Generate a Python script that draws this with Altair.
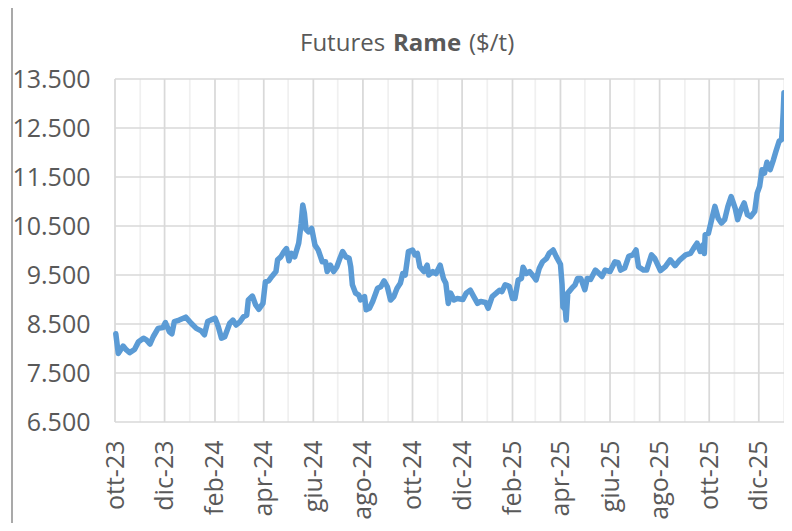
import json
import altair as alt
import pandas as pd

# ---- data ----
DATES = [
    "2023-10-02", "2023-10-05", "2023-10-11", "2023-10-15", "2023-10-19", "2023-10-25", "2023-10-30",
    "2023-11-05", "2023-11-09", "2023-11-13", "2023-11-17", "2023-11-23", "2023-11-29",
    "2023-12-02", "2023-12-07", "2023-12-10", "2023-12-13", "2023-12-19", "2023-12-27",
    "2024-01-03", "2024-01-09", "2024-01-15", "2024-01-19", "2024-01-23", "2024-01-27",
    "2024-02-01", "2024-02-05", "2024-02-09", "2024-02-13", "2024-02-19", "2024-02-23", "2024-02-27",
    "2024-03-03", "2024-03-07", "2024-03-11", "2024-03-13", "2024-03-18", "2024-03-22", "2024-03-26", "2024-03-31",
    "2024-04-03", "2024-04-07", "2024-04-11", "2024-04-16", "2024-04-18", "2024-04-22", "2024-04-26", "2024-04-29",
    "2024-05-02", "2024-05-05", "2024-05-09", "2024-05-14", "2024-05-17", "2024-05-19", "2024-05-21", "2024-05-23",
    "2024-05-26", "2024-05-30",
    "2024-06-03", "2024-06-07", "2024-06-12", "2024-06-16", "2024-06-18", "2024-06-22", "2024-06-26", "2024-06-30",
    "2024-07-03", "2024-07-07", "2024-07-11", "2024-07-15", "2024-07-17", "2024-07-19", "2024-07-23", "2024-07-27",
    "2024-07-29",
    "2024-08-03", "2024-08-05", "2024-08-09", "2024-08-13", "2024-08-19", "2024-08-23", "2024-08-27", "2024-08-31",
    "2024-09-04", "2024-09-08", "2024-09-12", "2024-09-16", "2024-09-19", "2024-09-22", "2024-09-26",
    "2024-10-01", "2024-10-04", "2024-10-07", "2024-10-10", "2024-10-15", "2024-10-19", "2024-10-21", "2024-10-26",
    "2024-10-30",
    "2024-11-04", "2024-11-08", "2024-11-11", "2024-11-14", "2024-11-17", "2024-11-21", "2024-11-25",
    "2024-12-02", "2024-12-06", "2024-12-11", "2024-12-15", "2024-12-20", "2024-12-24", "2024-12-30",
    "2025-01-02", "2025-01-07", "2025-01-12", "2025-01-16", "2025-01-19", "2025-01-23", "2025-01-28",
    "2025-02-01", "2025-02-04", "2025-02-08", "2025-02-12", "2025-02-14", "2025-02-18", "2025-02-22", "2025-02-27",
    "2025-03-02", "2025-03-06", "2025-03-10", "2025-03-15", "2025-03-18", "2025-03-23", "2025-03-27",
    "2025-04-01", "2025-04-03", "2025-04-04", "2025-04-07", "2025-04-08", "2025-04-10", "2025-04-15", "2025-04-19",
    "2025-04-22", "2025-04-26",
    "2025-05-01", "2025-05-04", "2025-05-08", "2025-05-14", "2025-05-18", "2025-05-22", "2025-05-26",
    "2025-06-01", "2025-06-07", "2025-06-11", "2025-06-14", "2025-06-19", "2025-06-24", "2025-06-29",
    "2025-07-03", "2025-07-06", "2025-07-12", "2025-07-16", "2025-07-22", "2025-07-26",
    "2025-08-02", "2025-08-08", "2025-08-14", "2025-08-20", "2025-08-26",
    "2025-09-02", "2025-09-08", "2025-09-12", "2025-09-16", "2025-09-20", "2025-09-23", "2025-09-25", "2025-09-26",
    "2025-09-30",
    "2025-10-04", "2025-10-08", "2025-10-12", "2025-10-16", "2025-10-20", "2025-10-24", "2025-10-28",
    "2025-11-02", "2025-11-05", "2025-11-09", "2025-11-13", "2025-11-17", "2025-11-21", "2025-11-26", "2025-11-29",
    "2025-12-02", "2025-12-05", "2025-12-08", "2025-12-11", "2025-12-15", "2025-12-19", "2025-12-22", "2025-12-26",
    "2025-12-29", "2025-12-30", "2025-12-31", "2026-01-01",
]
PRICES = [
    8300, 7900, 8050, 7970, 7915, 7980, 8140,
    8210, 8170, 8090, 8240, 8410, 8430,
    8530, 8340, 8300, 8550, 8580, 8640,
    8510, 8410, 8360, 8280, 8550, 8580,
    8620, 8450, 8210, 8240, 8510, 8580, 8480,
    8550, 8650, 8680, 8990, 9070, 8890, 8800, 8920,
    9360, 9380, 9470, 9570, 9810, 9870, 9980, 10040,
    9790, 9940, 9870, 10150, 10550, 10930, 10760, 10430,
    10380, 10450,
    10110, 10010, 9770, 9770, 9570, 9700, 9570, 9670,
    9810, 9980, 9870, 9840, 9670, 9300, 9130, 9090,
    8990,
    9060, 8790, 8820, 8960, 9230, 9260, 9380, 9260,
    8990, 9060, 9230, 9330, 9530, 9500, 9980,
    10010, 9910, 9940, 9670, 9570, 9700, 9500, 9570,
    9530,
    9700, 9430, 9330, 8920, 9130, 8990, 9020,
    9000, 9130, 9190, 9070, 8920, 8960, 8940,
    8820, 9060, 9130, 9190, 9160, 9300, 9270,
    9020, 9020, 9400, 9430, 9660, 9530, 9570, 9470,
    9400, 9640, 9770, 9840, 9940, 10010, 9870,
    9720, 9300, 8850, 8790, 8580, 9130, 9230, 9300,
    9430, 9430,
    9200, 9430, 9410, 9600, 9540, 9470, 9600,
    9570, 9770, 9750, 9600, 9640, 9880, 9910,
    10010, 9670, 9600, 9600, 9910, 9840,
    9590, 9670, 9810, 9690, 9810,
    9910, 9940, 10050, 10150, 9980, 10110, 9940, 10320,
    10350,
    10630, 10900, 10660, 10560, 10630, 10900, 11100,
    10860, 10630, 10830, 10970, 10730, 10690, 10800, 11170,
    11310, 11650, 11580, 11800, 11650, 11850, 12020, 12230,
    12260, 12500, 12810, 13220,
]
MONTH_ABBR = ["gen", "feb", "mar", "apr", "mag", "giu", "lug", "ago", "set", "ott", "nov", "dic"]
Y_TICKS = [6500, 7500, 8500, 9500, 10500, 11500, 12500, 13500]
TITLE_PARTS = ["Futures", "Rame", "($/t)"]
X_START = (2023, 10, 1)
X_END = (2026, 1, 1)

FONT = "Open Sans"
TEXT_COLOR = "#595959"

df = pd.DataFrame({"date": pd.to_datetime(DATES), "price": PRICES})

months = pd.date_range(f"{X_START[0]}-{X_START[1]:02d}-01", f"{X_END[0]}-{X_END[1]:02d}-01", freq="MS")
grid_v = pd.DataFrame({"date": months, "kind": ["major" if m.month % 2 == 0 else "minor" for m in months]})
grid_h = pd.DataFrame({"price": Y_TICKS})
label_values = [alt.DateTime(year=m.year, month=m.month, date=1) for m in months if m.month % 2 == 0]

x_label_expr = json.dumps(MONTH_ABBR) + "[month(datum.value)] + '-' + timeFormat(datum.value, '%y')"
y_label_expr = "replace(format(datum.value, ','), ',', '.')"

X = alt.X(
    "date:T",
    scale=alt.Scale(
        domain=[alt.DateTime(year=X_START[0], month=X_START[1], date=X_START[2]),
                alt.DateTime(year=X_END[0], month=X_END[1], date=X_END[2])],
        nice=False,
    ),
    axis=alt.Axis(
        values=label_values, labelExpr=x_label_expr, labelAngle=270, grid=False, ticks=False,
        tickSize=0, domain=False, title=None, labelFont=FONT, labelFontSize=25, labelColor=TEXT_COLOR,
        labelPadding=18, labelOverlap=False, labelFlush=False,
    ),
)
Y = alt.Y(
    "price:Q",
    scale=alt.Scale(domain=[Y_TICKS[0], Y_TICKS[-1]], nice=False, zero=False),
    axis=alt.Axis(
        values=Y_TICKS, labelExpr=y_label_expr, grid=False, ticks=False, tickSize=0, domain=False,
        title=None, labelFont=FONT, labelFontSize=25, labelColor=TEXT_COLOR, labelPadding=25,
        labelFlush=False,
    ),
)

vrules = alt.Chart(grid_v).mark_rule(strokeWidth=1.75).encode(
    x=X,
    color=alt.Color("kind:N", scale=alt.Scale(domain=["major", "minor"], range=["#D9D9D9", "#F0F0F0"]), legend=None),
)
hrules = alt.Chart(grid_h).mark_rule(strokeWidth=1.5, color="#D9D9D9").encode(y=Y)
line = alt.Chart(df).mark_line(
    color="#5B9BD5", strokeWidth=5.5, strokeCap="round", strokeJoin="round"
).encode(x=X, y=Y)

one = pd.DataFrame({"a": [0]})
border = alt.Chart(one).mark_rule(color="#8C8C8C", strokeWidth=1.5).encode(
    x=alt.value(-103), y=alt.value(-71), y2=alt.value(452)
)


def title_piece(text, x, bold):
    return alt.Chart(pd.DataFrame({"t": [text]})).mark_text(
        align="left", baseline="alphabetic", font=FONT, fontSize=24, color=TEXT_COLOR,
        fontWeight="bold" if bold else "normal",
    ).encode(x=alt.value(x), y=alt.value(-28), text="t:N")


t1 = title_piece(TITLE_PARTS[0], 185, False)
t2 = title_piece(TITLE_PARTS[1], 278, True)
t3 = title_piece(TITLE_PARTS[2], 354, False)

chart = alt.layer(vrules, hrules, line, border, t1, t2, t3).properties(
    width=669,
    height=343,
    padding={"left": 107, "top": 71, "right": 0, "bottom": 101},
    autosize=alt.AutoSizeParams(type="none"),
    background="white",
).configure_view(stroke=None)

chart.save("out.html", embed_options={"renderer": "svg", "actions": False})
